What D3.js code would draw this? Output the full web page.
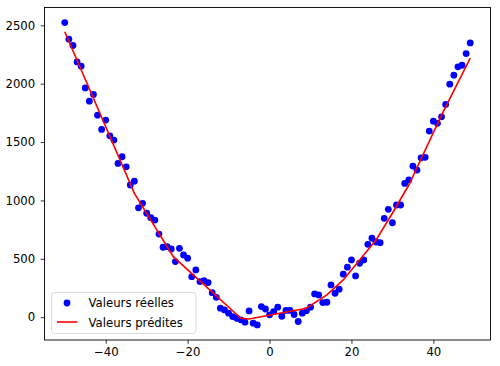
<!DOCTYPE html>
<html>
<head>
<meta charset="utf-8">
<script src="https://cdn.jsdelivr.net/npm/d3@7"></script>
<style>
  body { margin: 0; background: #fff; }
  text { font-family: "DejaVu Sans", sans-serif; }
</style>
</head>
<body>
<div id="chart"></div>
<script>
// real values, one per x from -50 to 49
var xs = d3.range(-50, 50);
var realY = [
  2523, 2381, 2327, 2186, 2150, 1964, 1850, 1908, 1730, 1608,
  1688, 1553, 1517, 1317, 1374, 1288, 1132, 1165, 937, 975,
  890, 852, 832, 712, 599, 604, 584, 476, 590, 533,
  505, 347, 405, 305, 313, 296, 210, 170, 77, 62,
  34, 5, -9, -23, -43, 54, -51, -66, 91, 70,
  20, 48, 86, 8, 58, 58, 23, -37, 34, 56,
  86, 199, 191, 125, 128, 276, 205, 240, 368, 428,
  490, 353, 462, 490, 624, 676, 644, 638, 847, 924,
  809, 961, 961, 1146, 1175, 1294, 1260, 1365, 1369, 1594,
  1679, 1660, 1716, 1822, 1996, 2073, 2144, 2158, 2258, 2349
];

// predicted line (read at its corners)
var predX = [-50, -33, -23.5, -7, -5, 9, 14, 18, 22, 26, 30, 34, 42, 49];
var predY = [2445, 1060, 518, -9, -15, 77, 191, 319, 490, 661, 890, 1132, 1731, 2218];

var xTicks = [-40, -20, 0, 20, 40];
var yTicks = [0, 500, 1000, 1500, 2000, 2500];
var legendLabels = ["Valeurs réelles", "Valeurs prédites"];

var W = 500, H = 366;
var margin = { top: 7.5, right: 9.5, bottom: 26, left: 44.5 };
var width = W - margin.left - margin.right,
    height = H - margin.top - margin.bottom;

// matplotlib style 5% padding
var xmin = d3.min(xs), xmax = d3.max(xs);
var xpad = (xmax - xmin) * 0.05;
var ymin = Math.min(d3.min(realY), d3.min(predY)),
    ymax = Math.max(d3.max(realY), d3.max(predY));
var ypad = (ymax - ymin) * 0.05;

var x = d3.scaleLinear().domain([xmin - xpad, xmax + xpad]).range([0, width]);
var y = d3.scaleLinear().domain([ymin - ypad, ymax + ypad]).range([height, 0]);

var svg = d3.select("#chart").append("svg")
    .attr("width", W)
    .attr("height", H)
  .append("g")
    .attr("transform", "translate(" + margin.left + "," + margin.top + ")");

// points
svg.append("g")
  .selectAll("circle")
  .data(xs)
  .enter().append("circle")
    .attr("cx", function (d) { return x(d); })
    .attr("cy", function (d, i) { return y(realY[i]); })
    .attr("r", 3.4)
    .attr("fill", "blue");

// predicted line
var line = d3.line()
    .x(function (d) { return x(d); })
    .y(function (d, i) { return y(predY[i]); });

svg.append("path")
    .datum(predX)
    .attr("d", line)
    .attr("fill", "none")
    .attr("stroke", "red")
    .attr("stroke-width", 1.6);

// axes
var fmt = d3.format("d");
var xAxis = svg.append("g")
    .attr("transform", "translate(0," + height + ")")
    .call(d3.axisBottom(x).tickValues(xTicks).tickSize(3.8).tickPadding(3.5).tickFormat(fmt));
var yAxis = svg.append("g")
    .call(d3.axisLeft(y).tickValues(yTicks).tickSize(3.8).tickPadding(5.5).tickFormat(fmt));

[xAxis, yAxis].forEach(function (a) {
  a.select(".domain").remove();
  a.selectAll("line").attr("stroke", "#000").attr("stroke-width", 0.8);
  a.selectAll("text")
    .attr("fill", "#000")
    .style("font-size", "11.7px")
    .style("font-family", "'DejaVu Sans', sans-serif");
});

// frame
svg.append("rect")
    .attr("x", 0).attr("y", 0)
    .attr("width", width).attr("height", height)
    .attr("fill", "none")
    .attr("stroke", "#000")
    .attr("stroke-width", 0.9);

// legend
var lg = svg.append("g").attr("transform", "translate(" + (51.5 - margin.left) + "," + (292.5 - margin.top) + ")");
lg.append("rect")
    .attr("width", 144.5).attr("height", 41)
    .attr("rx", 3)
    .attr("fill", "#fff").attr("fill-opacity", 0.8)
    .attr("stroke", "#d6d6d6").attr("stroke-width", 0.9);
lg.append("circle")
    .attr("cx", 15.5).attr("cy", 10.5).attr("r", 3.4).attr("fill", "blue");
lg.append("line")
    .attr("x1", 5.5).attr("x2", 26).attr("y1", 29.5).attr("y2", 29.5)
    .attr("stroke", "red").attr("stroke-width", 1.6);
lg.selectAll("text.lab")
  .data(legendLabels)
  .enter().append("text")
    .attr("class", "lab")
    .attr("x", 37)
    .attr("y", function (d, i) { return 14.8 + i * 19.5; })
    .style("font-size", "11.7px")
    .attr("fill", "#000")
    .text(function (d) { return d; });
</script>
</body>
</html>
